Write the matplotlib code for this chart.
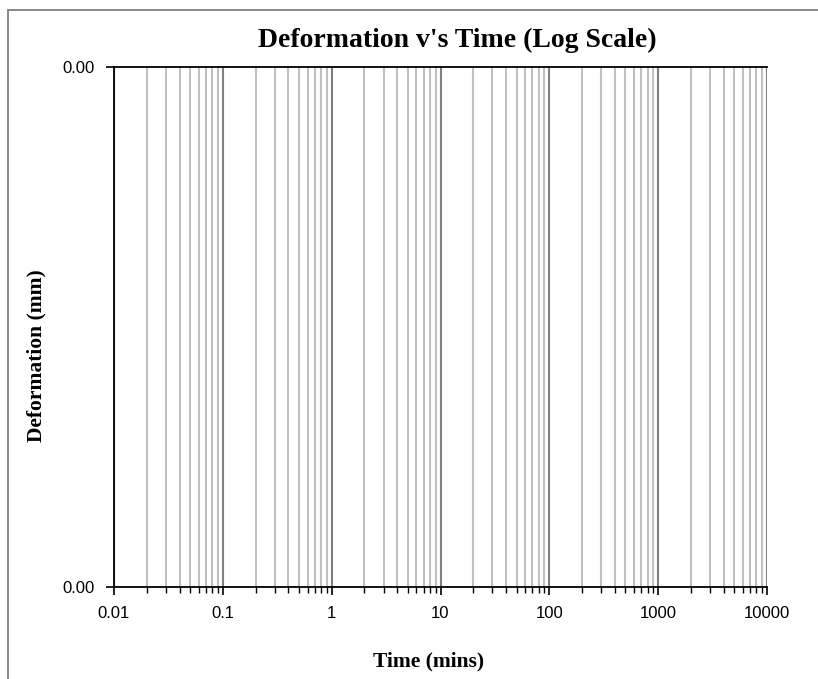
import matplotlib
matplotlib.use("Agg")
import matplotlib.pyplot as plt
from matplotlib.ticker import FixedLocator, FuncFormatter, LogLocator, NullFormatter
from matplotlib.patches import Rectangle

# Axis ranges and tick labels
x_ticks = [0.01, 0.1, 1, 10, 100, 1000, 10000]
x_tick_labels = ["0.01", "0.1", "1", "10", "100", "1000", "10000"]
y_ticks = [0.0, 0.001]
y_tick_labels = ["0.00", "0.00"]

# Readings (none recorded yet)
time_mins = []
deformation_mm = []

W, H = 818, 679
fig = plt.figure(figsize=(W / 100, H / 100), dpi=100)

serif = ["Liberation Serif", "DejaVu Serif"]
sans = ["Liberation Sans", "DejaVu Sans"]

# Chart area border
fig.patches.append(Rectangle((8 / W, -0.1), 1.2, 1 - 10.5 / H + 0.1,
                             transform=fig.transFigure, fill=False,
                             edgecolor="#808080", linewidth=1.3))

ax = fig.add_axes([114 / W, 1 - 587 / H, (767 - 114) / W, (587 - 67) / H])
ax.set_xscale("log")
ax.set_xlim(x_ticks[0], x_ticks[-1])
ax.set_ylim(y_ticks[-1], y_ticks[0])

ax.plot(time_mins, deformation_mm, color="navy")

# Vertical gridlines: light for minor, darker for decades
ax.xaxis.set_major_locator(FixedLocator(x_ticks))
ax.xaxis.set_minor_locator(LogLocator(base=10, subs=range(2, 10), numticks=20))
ax.xaxis.set_minor_formatter(NullFormatter())
ax.set_xticklabels(x_tick_labels, fontfamily=sans, fontsize=12)
ax.grid(True, which="minor", axis="x", color="#c0c0c0", linewidth=1.5)
ax.grid(True, which="major", axis="x", color="#808080", linewidth=1.5)
ax.set_axisbelow(True)

ax.yaxis.set_major_locator(FixedLocator(y_ticks))
ax.yaxis.set_major_formatter(FuncFormatter(lambda v, p: y_tick_labels[p] if p is not None and p < len(y_tick_labels) else f"{v:.2f}"))
for lbl in ax.get_yticklabels():
    lbl.set_fontfamily(sans)
    lbl.set_fontsize(12)

ax.tick_params(axis="both", which="major", direction="out", length=6, width=1.2,
               color="black", labelsize=12, pad=8)
ax.tick_params(axis="x", which="minor", direction="out", length=4, width=1.0,
               color="black")

for side in ("left", "bottom", "top"):
    ax.spines[side].set_color("black")
    ax.spines[side].set_linewidth(1.3)
ax.spines["right"].set_visible(False)

fig.text(457 / W, 1 - 40 / H, "Deformation v's Time (Log Scale)",
         ha="center", va="center", fontfamily=serif, fontweight="bold", fontsize=20)
fig.text(429 / W, 1 - 661 / H, "Time (mins)",
         ha="center", va="center", fontfamily=serif, fontweight="bold", fontsize=15.5)
fig.text(36 / W, 1 - 356 / H, "Deformation (mm)", rotation=90,
         ha="center", va="center", fontfamily=serif, fontweight="bold", fontsize=15.5)

fig.savefig("out.png", dpi=100)
